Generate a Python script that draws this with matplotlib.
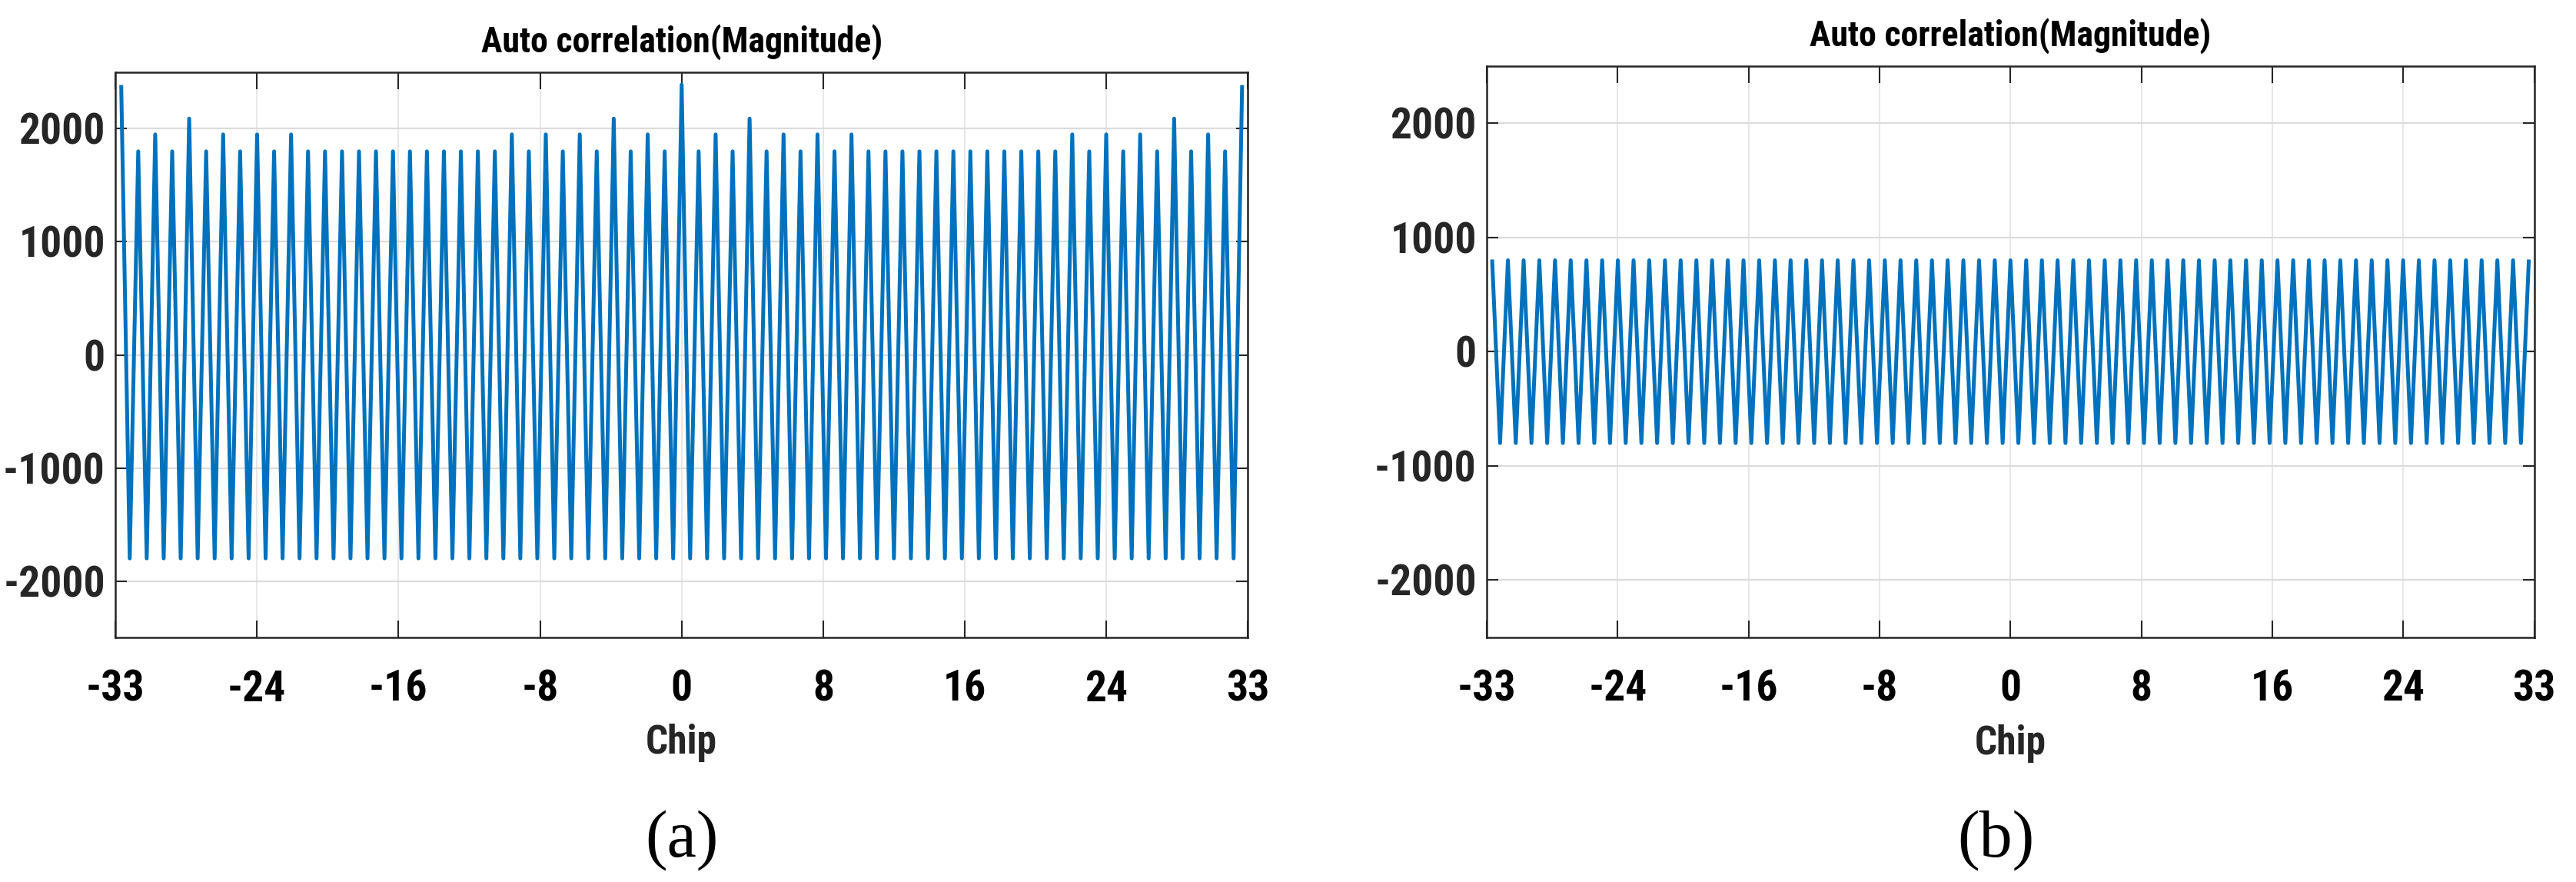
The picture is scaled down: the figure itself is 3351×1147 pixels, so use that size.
import os
import numpy as np
import matplotlib
matplotlib.use('Agg')
import matplotlib.pyplot as plt
from matplotlib import font_manager as fm

# chip index of each correlation peak (troughs sit half way between peaks)
chips = np.arange(-33, 34)

# panel (a): peak heights, chip -33 .. 33
peaks_a = [2370, 1800, 1950, 1800, 2090, 1800, 1950, 1800, 1950, 1800, 1950,
           1800, 1800, 1800, 1800, 1800, 1800, 1800, 1800, 1800, 1800, 1800, 1800,
           1950, 1800, 1950, 1800, 1950, 1800, 2090, 1800, 1950, 1800,
           2390,
           1800, 1950, 1800, 2090, 1800, 1950, 1800, 1950, 1800, 1950, 1800,
           1800, 1800, 1800, 1800, 1800, 1800, 1800, 1800, 1800, 1800, 1800,
           1950, 1800, 1950, 1800, 1950, 1800, 2090, 1800, 1950, 1800, 2370]
troughs_a = [-1800] * 66

# panel (b): flat side lobes
peaks_b = [790] + [800] * 65 + [790]
troughs_b = [-800] * 66

xtick_labels = ['-33', '-24', '-16', '-8', '0', '8', '16', '24', '33']
ytick_vals = [-2000, -1000, 0, 1000, 2000]
title_txt = 'Auto correlation(Magnitude)'
xlabel_txt = 'Chip'
tags = ['(a)', '(b)']


def find_font(names):
    files = {}
    for f in fm.fontManager.ttflist:
        files[os.path.splitext(os.path.basename(f.fname))[0].lower()] = f.fname
    for n in names:
        if n.lower() in files:
            return files[n.lower()]
    return None


narrow = find_font(['NotoSans-ExtraCondensedBold', 'NotoSans-CondensedBold',
                    'RobotoCondensed-Bold', 'LiberationSansNarrow-Bold',
                    'DejaVuSansCondensed-Bold', 'LiberationSans-Bold'])


def fprop(size):
    if narrow:
        return fm.FontProperties(fname=narrow, size=size)
    return fm.FontProperties(family='Liberation Sans', weight='bold', size=size)


def zigzag(peaks, troughs):
    x = np.empty(len(peaks) + len(troughs))
    y = np.empty_like(x)
    x[0::2] = chips
    x[1::2] = chips[:-1] + 0.5
    y[0::2] = peaks
    y[1::2] = troughs
    return x, y


fig = plt.figure(figsize=(33.51, 11.47), dpi=100)
ax_a = fig.add_axes([0.04476, 0.27724, 0.43972, 0.64081])
ax_b = fig.add_axes([0.57714, 0.27751, 0.40666, 0.64751])

xlim = (-33.35, 33.35)
xticks = np.linspace(xlim[0], xlim[1], len(xtick_labels))

for ax, pk, tr in [(ax_a, peaks_a, troughs_a), (ax_b, peaks_b, troughs_b)]:
    x, y = zigzag(pk, tr)
    ax.plot(x, y, color='#0072BD', lw=3.6)
    ax.set_xlim(xlim)
    ax.set_ylim(-2500, 2500)
    ax.set_xticks(xticks)
    ax.set_xticklabels(xtick_labels)
    ax.set_yticks(ytick_vals)
    ax.set_yticklabels([str(v) for v in ytick_vals])
    ax.set_axisbelow(True)
    ax.yaxis.grid(True, color='#dcdcdc', lw=1.6)
    ax.xaxis.grid(True, color='#e3e3e3', lw=1.2)
    for sp in ax.spines.values():
        sp.set_linewidth(1.8)
        sp.set_color('#262626')
    ax.tick_params(axis='both', direction='in', top=True, right=True,
                   color='#262626', width=1.5)
    ax.tick_params(axis='x', length=15.5, pad=30, labelcolor='black')
    ax.tick_params(axis='y', length=10.5, pad=9.5, labelcolor='#262626')
    for lab in ax.get_xticklabels() + ax.get_yticklabels():
        lab.set_fontproperties(fprop(40))
    ax.set_title(title_txt, fontproperties=fprop(33), color='black', pad=19)
    ax.set_xlabel(xlabel_txt, fontproperties=fprop(37), color='#262626')
    ax.xaxis.set_label_coords(0.5, -0.153)

fig.text(887 / 3351, 1 - 1093 / 1147, tags[0], ha='center', va='center',
         family='Liberation Serif', fontsize=62)
fig.text(2596 / 3351, 1 - 1093 / 1147, tags[1], ha='center', va='center',
         family='Liberation Serif', fontsize=62)

fig.savefig('out.png', dpi=100)
